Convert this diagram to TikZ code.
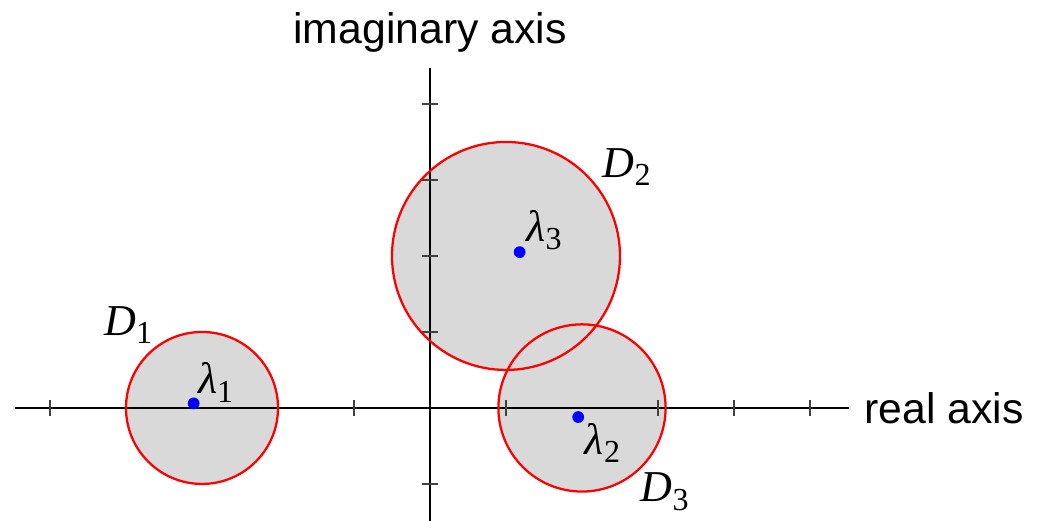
\documentclass[tikz,border=0pt]{standalone}
\usepackage{fontspec}
\setmainfont{Liberation Serif}
\newfontfamily\axisfont{Liberation Sans}
\newcommand\sublab[2]{\textit{#1}\raisebox{-0.2em}{\fontsize{12}{12}\selectfont #2}}
\tikzset{
  disk/.style={fill=black!15},
  rim/.style={draw=red, line width=0.85pt},
  axisline/.style={black, line width=0.5pt},
  tickmark/.style={black!75, line width=0.5pt},
  eig/.style={circle, fill=blue, inner sep=0pt, minimum size=0.155cm},
  mlabel/.style={inner sep=0pt, font=\fontsize{16.5}{18}\selectfont},
  alabel/.style={inner sep=0pt, font=\axisfont\fontsize{16}{18}\selectfont}
}
\begin{document}
\begin{tikzpicture}[x=1cm,y=1cm]
\useasboundingbox (-5.658,-1.487) rectangle (8.0,5.368);
% disks
\fill[disk] (-3,0) circle (1);
\fill[disk] (1,2) circle (1.5);
\fill[disk] (2,0) circle (1.1);
% axes
\draw[axisline] (-5.46,0) -- (5.51,0);
\draw[axisline] (0,-1.49) -- (0,4.47);
\foreach \t in {-5,-1,1,3,4,5} \draw[tickmark] (\t,-0.1) -- (\t,0.1);
\foreach \t in {-1,1,2,3,4} \draw[tickmark] (-0.1,\t) -- (0.1,\t);
% rims
\draw[rim] (-3,0) circle (1);
\draw[rim] (1,2) circle (1.5);
\draw[rim] (2,0) circle (1.1);
% eigenvalues
\node[eig] (l1) at (-3.11,0.06) {};
\node[eig] (l2) at (1.95,-0.12) {};
\node[eig] (l3) at (1.18,2.05) {};
% labels
\node[mlabel] (t1) at (-2.82,0.34) {\sublab{λ}{1}};
\node[mlabel] (t2) at (2.27,-0.46) {\sublab{λ}{2}};
\node[mlabel] (t3) at (1.5,2.34) {\sublab{λ}{3}};
\node[mlabel] (d1) at (-3.97,1.09) {\sublab{D}{1}};
\node[mlabel] (d2) at (2.59,3.17) {\sublab{D}{2}};
\node[mlabel] (d3) at (3.09,-1.1) {\sublab{D}{3}};
\node[alabel, anchor=base] (ia) at (0,4.80) {imaginary axis};
\node[alabel, anchor=base west] (ra) at (5.71,-0.21) {real axis};
\end{tikzpicture}
\end{document}
